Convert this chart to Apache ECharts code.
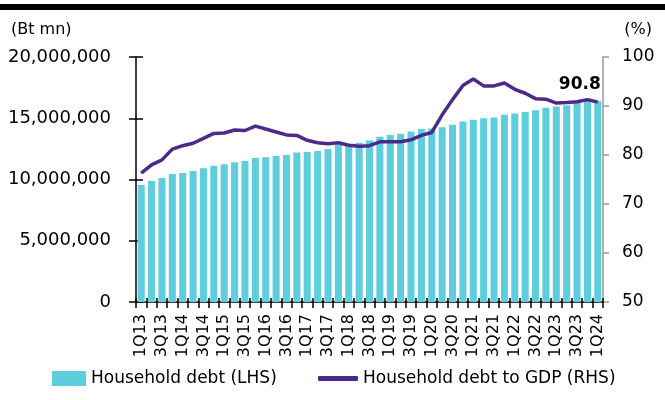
<!DOCTYPE html>
<html>
<head>
<meta charset="utf-8">
<script src="https://cdn.jsdelivr.net/npm/echarts@6/dist/echarts.min.js"></script>
<style>
html,body{margin:0;padding:0;background:#fff;}
#c{width:665px;height:400px;}
</style>
</head>
<body>
<div id="c"></div>
<script>
const categories = ['1Q13','2Q13','3Q13','4Q13','1Q14','2Q14','3Q14','4Q14','1Q15','2Q15','3Q15','4Q15',
 '1Q16','2Q16','3Q16','4Q16','1Q17','2Q17','3Q17','4Q17','1Q18','2Q18','3Q18','4Q18',
 '1Q19','2Q19','3Q19','4Q19','1Q20','2Q20','3Q20','4Q20','1Q21','2Q21','3Q21','4Q21',
 '1Q22','2Q22','3Q22','4Q22','1Q23','2Q23','3Q23','4Q23','1Q24'];
const householdDebt = [9550000,9880000,10120000,10450000,10530000,10700000,10920000,11130000,11240000,11410000,
 11510000,11760000,11820000,11920000,12000000,12200000,12250000,12330000,12480000,12820000,
 12860000,13010000,13180000,13500000,13640000,13730000,13920000,14120000,14160000,14270000,
 14460000,14730000,14870000,15010000,15060000,15280000,15380000,15520000,15660000,15850000,
 15960000,16070000,16290000,16400000,16400000];
const debtToGdp = [76.3,78.0,79.0,81.2,81.9,82.4,83.4,84.4,84.5,85.1,85.0,85.9,85.3,84.7,84.1,84.0,
 83.0,82.5,82.3,82.5,82.0,81.8,81.9,82.7,82.7,82.7,83.1,84.0,84.6,88.2,91.3,94.2,95.5,94.1,94.1,
 94.7,93.4,92.6,91.5,91.4,90.6,90.7,90.85,91.3,90.8];
const leftTicks = {min:0, max:20000000, interval:5000000};
const rightTicks = {min:50, max:100, interval:10};
const seriesNames = ['Household debt (LHS)','Household debt to GDP (RHS)'];
const lastLabel = '90.8';

const FONT = 'DejaVu Sans';
const chart = echarts.init(document.getElementById('c'), null, {renderer:'canvas'});
const lastIdx = debtToGdp.length - 1;
const lineData = debtToGdp.map((v,i)=> i===lastIdx ? {
  value:v,
  label:{show:true, formatter:lastLabel, position:'top', distance:5, offset:[-18,-4],
    fontFamily:FONT, fontWeight:'bold', fontSize:17, color:'#000'}
} : v);

chart.setOption({
  animation:false,
  textStyle:{fontFamily:FONT},
  title:[
    {text:'(Bt mn)', left:11, top:22, padding:0, textStyle:{fontFamily:FONT,fontSize:16,fontWeight:'normal',color:'#000'}},
    {text:'(%)', right:13, top:22, padding:0, textStyle:{fontFamily:FONT,fontSize:16,fontWeight:'normal',color:'#000'}}
  ],
  graphic:[{type:'rect', left:0, top:4, shape:{width:665, height:6}, style:{fill:'#000'}}],
  grid:{left:136, right:62, top:57, bottom:98, containLabel:false},
  legend:[
    {data:[seriesNames[0]], left:52, top:370, padding:0, icon:'rect', itemWidth:34, itemHeight:15,
      textStyle:{fontFamily:FONT,fontSize:17,color:'#000'}},
    {data:[seriesNames[1]], left:318, top:370, padding:0, icon:'roundRect', itemWidth:40, itemHeight:5,
      textStyle:{fontFamily:FONT,fontSize:17,color:'#000'}}
  ],
  xAxis:[
    {type:'category', data:categories, position:'bottom', boundaryGap:true,
     axisLine:{show:true, lineStyle:{color:'#000', width:1.5}},
     axisTick:{show:true, interval:0, length:6, inside:false, lineStyle:{color:'#000', width:1.5}},
     axisLabel:{interval:1, rotate:90, margin:12, fontFamily:FONT, fontSize:16, color:'#000'},
     splitLine:{show:false}},
    {type:'category', data:categories, position:'bottom', boundaryGap:true, gridIndex:0,
     axisLine:{show:false},
     axisTick:{show:true, interval:0, length:4, inside:true, lineStyle:{color:'#000', width:1.5}},
     axisLabel:{show:false}, splitLine:{show:false}}
  ],
  yAxis:[
    {type:'value', position:'left', min:leftTicks.min, max:leftTicks.max, interval:leftTicks.interval,
     axisLine:{show:true, lineStyle:{color:'#000', width:1.5}},
     axisTick:{show:true, length:7, lineStyle:{color:'#000', width:1.5}},
     axisLabel:{margin:25, fontFamily:FONT, fontSize:18, color:'#000',
       formatter:v=>v.toLocaleString('en-US')},
     splitLine:{show:false}},
    {type:'value', position:'right', min:rightTicks.min, max:rightTicks.max, interval:rightTicks.interval,
     axisLine:{show:true, lineStyle:{color:'#9a9a9a', width:1.5}},
     axisTick:{show:true, length:6, lineStyle:{color:'#9a9a9a', width:1.5}},
     axisLabel:{margin:19, fontFamily:FONT, fontSize:17, color:'#000'},
     splitLine:{show:false}},
    {type:'value', position:'left', min:leftTicks.min, max:leftTicks.max, interval:leftTicks.interval,
     axisLine:{show:false},
     axisTick:{show:true, length:7, inside:true, lineStyle:{color:'#000', width:1.5}},
     axisLabel:{show:false}, splitLine:{show:false}}
  ],
  series:[
    {name:seriesNames[0], type:'bar', xAxisIndex:0, yAxisIndex:0, data:householdDebt,
     barCategoryGap:'32%', itemStyle:{color:'#5ECEDF'}, z:2},
    {name:seriesNames[1], type:'line', xAxisIndex:0, yAxisIndex:1, data:lineData,
     symbol:'circle', symbolSize:0, showSymbol:true, smooth:false,
     lineStyle:{color:'#4B2A8A', width:3.5}, itemStyle:{color:'#4B2A8A'}, z:3}
  ]
});
</script>
</body>
</html>
